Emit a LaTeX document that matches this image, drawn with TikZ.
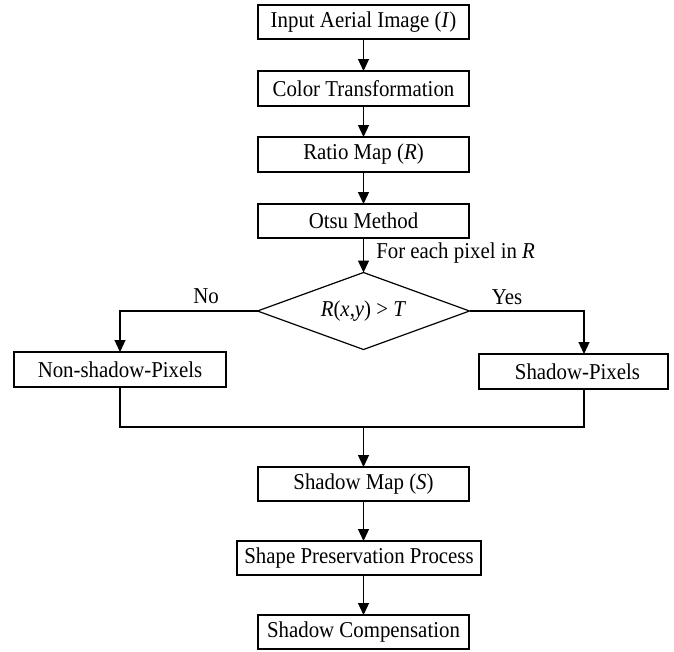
\documentclass[tikz,border=0pt]{standalone}
\usepackage{fontspec}
\setmainfont{Liberation Serif}[FakeStretch=0.92]
\usetikzlibrary{arrows.meta,shapes.geometric}
\tikzset{
  base/.style={draw=black, line width=0.9pt, inner sep=0pt, outer sep=0pt,
    font=\fontsize{17}{20}\selectfont, text=black},
  procbox/.style={base, rectangle, minimum width=158.25pt, minimum height=25.5pt},
  decbox/.style={base, diamond, aspect=2.75, minimum width=159pt, minimum height=57.75pt},
  lbl/.style={inner sep=0pt, font=\fontsize{17}{20}\selectfont, text=black},
  conn/.style={line width=0.9pt, draw=black},
  arr/.style={conn, -{Triangle[length=9pt,width=8.25pt]}}
}
\begin{document}
\begin{tikzpicture}[x=0.75pt, y=-0.75pt]
\useasboundingbox (0,0) rectangle (674,651);
\node[procbox] (b1) at (363.5,22) {Input Aerial Image (\textit{I})};
\node[procbox, minimum height=26.25pt] (b2) at (363.5,88.5) {Color Transformation};
\node[procbox, minimum height=26.25pt] (b3) at (363.5,154.5) {Ratio Map (\textit{R})};
\node[procbox] (b4) at (363.5,221) {Otsu Method};
\node[decbox] (dia) at (363.5,311) {\textit{R}(\textit{x},\textit{y}) \textgreater{} \textit{T}};
\node[procbox, minimum width=159pt, minimum height=26.25pt] (ns) at (120,369.5) {Non-shadow-Pixels};
\node[procbox, minimum width=141.75pt, minimum height=26.25pt] (sp) at (573.5,371.5) {\hspace*{6pt}Shadow-Pixels};
\node[procbox] (sm) at (363.5,484) {Shadow Map (\textit{S})};
\node[procbox, minimum width=183pt, minimum height=25.5pt] (spp) at (359,558) {Shape Preservation Process};
\node[procbox] (sc) at (363.5,632) {Shadow Compensation};

\node[lbl] (no) at (206,296) {No};
\node[lbl] (yes) at (507,297) {Yes};
\node[lbl, anchor=west] (fe) at (376,253) {For each pixel in \textit{R}};

\coordinate (rx) at (584,0);
\coordinate (mrg) at (363.5,427);

\draw[arr] (b1) -- (b2);
\draw[arr] (b2) -- (b3);
\draw[arr] (b3) -- (b4);
\draw[arr] (b4) -- (dia);
\draw[arr] (dia.west) -| (ns.north);
\draw[arr] (dia.east) -| (rx |- sp.north);
\draw[conn] (ns.south) |- (mrg);
\draw[conn] (rx |- sp.south) |- (mrg);
\draw[arr] (mrg) -- (sm.north);
\draw[arr] (sm.south) -- (sm.south |- spp.north);
\draw[arr] (sm.south |- spp.south) -- (sc.north);
\end{tikzpicture}
\end{document}
